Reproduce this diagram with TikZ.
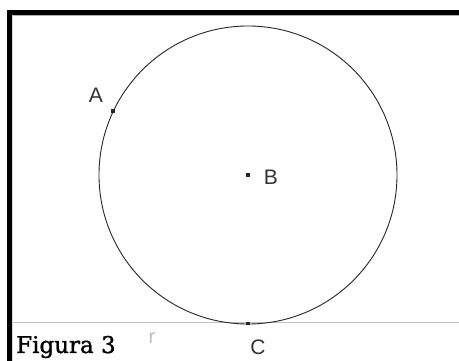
\documentclass[tikz,border=0pt]{standalone}
\usepackage{fontspec}
\setmainfont{Liberation Sans}
\newfontfamily\capfont{DejaVu Serif}
\begin{document}
\begin{tikzpicture}[x=1pt,y=-1pt,
  lbl/.style={text=black!80, font=\fontsize{21}{21}\selectfont, inner sep=0pt},
  pt/.style={fill=black!85, minimum size=3.5pt, inner sep=0pt, draw=none},
  frame/.style={line width=5pt, black}]
\useasboundingbox (0,0) rectangle (459,361);
\fill[white] (0,0) rectangle (459,361);
% frame
\draw[frame] (7,12.5) -- (459,12.5);
\draw[frame] (9.5,10) -- (9.5,361);
\draw[black!30, line width=0.8pt] (12,15.5) -- (459,15.5);
\draw[black!15, line width=0.8pt] (12.5,15) -- (12.5,361);
% baseline
\draw[black!25, line width=1.2pt] (12,322.5) -- (459,322.5);
% circle
\coordinate (Bc) at (248,175);
\draw[black!85, line width=0.9pt] (Bc) circle[radius=149];
% points
\node[pt] (A) at (113,111) {};
\node[pt] (B) at (Bc) {};
\node[pt] (C) at (248,323.5) {};
% labels
\node[lbl] (la) at (96,95) {A};
\node[lbl] (lb) at (271,177) {B};
\node[lbl] (lc) at (258,347) {C};
\node[text=black!25, font=\fontsize{20}{20}\selectfont, inner sep=0pt] (lr) at (152,338) {r};
\node[anchor=west, inner sep=0pt, text=black, font=\capfont\fontsize{23}{23}\selectfont] (fig) at (16,347) {\addfontfeature{FakeBold=1.2}Figura 3};
\end{tikzpicture}
\end{document}
